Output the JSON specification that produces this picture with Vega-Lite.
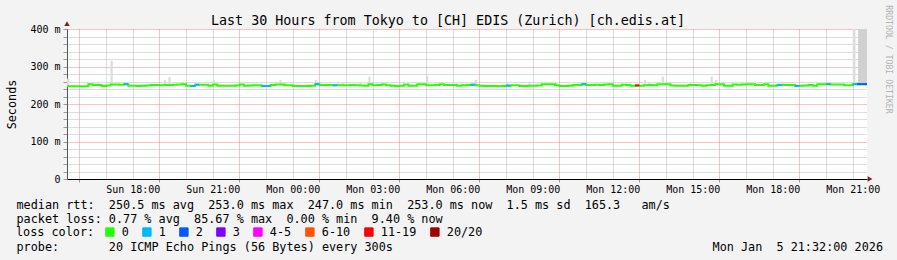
{
  "$schema": "https://vega.github.io/schema/vega-lite/v6.json",
  "width": 800,
  "height": 150,
  "autosize": {"type": "none"},
  "padding": {"left": 67, "top": 29, "right": 30, "bottom": 81},
  "background": "#f3f3f3",
  "config": {
    "view": {"stroke": null, "fill": "#ffffff"},
    "font": "DejaVu Sans Mono"
  },
  "title": {
    "text": "Last 30 Hours from Tokyo to [CH] EDIS (Zurich) [ch.edis.at]",
    "font": "DejaVu Sans Mono",
    "fontSize": 13.35,
    "fontWeight": "normal",
    "color": "#000000",
    "anchor": "middle",
    "frame": "group",
    "dx": -19,
    "baseline": "alphabetic",
    "offset": -34
  },
  "datasets": {
    "med": [
      {"t":"2026-01-04T15:32Z","m":247.5},{"t":"2026-01-04T15:40Z","m":247.5},{"t":"2026-01-04T15:50Z","m":247.5},
      {"t":"2026-01-04T16:00Z","m":247.5},{"t":"2026-01-04T16:10Z","m":247.5},{"t":"2026-01-04T16:20Z","m":252.5},
      {"t":"2026-01-04T16:30Z","m":250.5},{"t":"2026-01-04T16:40Z","m":251},{"t":"2026-01-04T16:50Z","m":248},
      {"t":"2026-01-04T17:00Z","m":249.5},{"t":"2026-01-04T17:10Z","m":252},{"t":"2026-01-04T17:20Z","m":252},
      {"t":"2026-01-04T17:30Z","m":251.5},{"t":"2026-01-04T17:40Z","m":253},{"t":"2026-01-04T17:50Z","m":249},
      {"t":"2026-01-04T18:00Z","m":249},{"t":"2026-01-04T18:10Z","m":248},{"t":"2026-01-04T18:20Z","m":249},
      {"t":"2026-01-04T18:30Z","m":249.5},{"t":"2026-01-04T18:40Z","m":251},{"t":"2026-01-04T18:50Z","m":251},
      {"t":"2026-01-04T19:00Z","m":250},{"t":"2026-01-04T19:10Z","m":250.5},{"t":"2026-01-04T19:20Z","m":251},
      {"t":"2026-01-04T19:30Z","m":251.5},{"t":"2026-01-04T19:40Z","m":252},{"t":"2026-01-04T19:50Z","m":252.5},
      {"t":"2026-01-04T20:00Z","m":249},{"t":"2026-01-04T20:10Z","m":248},{"t":"2026-01-04T20:20Z","m":251.5},
      {"t":"2026-01-04T20:30Z","m":251.5},{"t":"2026-01-04T20:40Z","m":251.5},{"t":"2026-01-04T20:50Z","m":249},
      {"t":"2026-01-04T21:00Z","m":252},{"t":"2026-01-04T21:10Z","m":249},{"t":"2026-01-04T21:20Z","m":248.5},
      {"t":"2026-01-04T21:30Z","m":248.5},{"t":"2026-01-04T21:40Z","m":248.5},{"t":"2026-01-04T21:50Z","m":249.5},
      {"t":"2026-01-04T22:00Z","m":252},{"t":"2026-01-04T22:10Z","m":249},{"t":"2026-01-04T22:20Z","m":249.5},
      {"t":"2026-01-04T22:30Z","m":250},{"t":"2026-01-04T22:40Z","m":250},{"t":"2026-01-04T22:50Z","m":248},
      {"t":"2026-01-04T23:00Z","m":248},{"t":"2026-01-04T23:10Z","m":251},{"t":"2026-01-04T23:20Z","m":252},
      {"t":"2026-01-04T23:30Z","m":252},{"t":"2026-01-04T23:40Z","m":250},{"t":"2026-01-04T23:50Z","m":250},
      {"t":"2026-01-05T00:00Z","m":248},{"t":"2026-01-05T00:10Z","m":248},{"t":"2026-01-05T00:20Z","m":248},
      {"t":"2026-01-05T00:30Z","m":248},{"t":"2026-01-05T00:40Z","m":248.5},{"t":"2026-01-05T00:50Z","m":253},
      {"t":"2026-01-05T01:00Z","m":251},{"t":"2026-01-05T01:10Z","m":251},{"t":"2026-01-05T01:20Z","m":250.5},
      {"t":"2026-01-05T01:30Z","m":250},{"t":"2026-01-05T01:40Z","m":250},{"t":"2026-01-05T01:50Z","m":250},
      {"t":"2026-01-05T02:00Z","m":250},{"t":"2026-01-05T02:10Z","m":250.5},{"t":"2026-01-05T02:20Z","m":250},
      {"t":"2026-01-05T02:30Z","m":249.5},{"t":"2026-01-05T02:40Z","m":249},{"t":"2026-01-05T02:50Z","m":253},
      {"t":"2026-01-05T03:00Z","m":250},{"t":"2026-01-05T03:10Z","m":250.5},{"t":"2026-01-05T03:20Z","m":252},
      {"t":"2026-01-05T03:30Z","m":250},{"t":"2026-01-05T03:40Z","m":249},{"t":"2026-01-05T03:50Z","m":248},
      {"t":"2026-01-05T04:00Z","m":248.5},{"t":"2026-01-05T04:10Z","m":252},{"t":"2026-01-05T04:20Z","m":249},
      {"t":"2026-01-05T04:30Z","m":249},{"t":"2026-01-05T04:40Z","m":253},{"t":"2026-01-05T04:50Z","m":252.5},
      {"t":"2026-01-05T05:00Z","m":250},{"t":"2026-01-05T05:10Z","m":250},{"t":"2026-01-05T05:20Z","m":251},
      {"t":"2026-01-05T05:30Z","m":253},{"t":"2026-01-05T05:40Z","m":251},{"t":"2026-01-05T05:50Z","m":251},
      {"t":"2026-01-05T06:00Z","m":251},{"t":"2026-01-05T06:10Z","m":249},{"t":"2026-01-05T06:20Z","m":250},
      {"t":"2026-01-05T06:30Z","m":251},{"t":"2026-01-05T06:40Z","m":251.5},{"t":"2026-01-05T06:50Z","m":250},
      {"t":"2026-01-05T07:00Z","m":249},{"t":"2026-01-05T07:10Z","m":248},{"t":"2026-01-05T07:20Z","m":248},
      {"t":"2026-01-05T07:30Z","m":248},{"t":"2026-01-05T07:40Z","m":247.5},{"t":"2026-01-05T07:50Z","m":248},
      {"t":"2026-01-05T08:00Z","m":249},{"t":"2026-01-05T08:10Z","m":250},{"t":"2026-01-05T08:20Z","m":250},
      {"t":"2026-01-05T08:30Z","m":248},{"t":"2026-01-05T08:40Z","m":248},{"t":"2026-01-05T08:50Z","m":248.5},
      {"t":"2026-01-05T09:00Z","m":249},{"t":"2026-01-05T09:10Z","m":249.5},{"t":"2026-01-05T09:20Z","m":253},
      {"t":"2026-01-05T09:30Z","m":253},{"t":"2026-01-05T09:40Z","m":252.5},{"t":"2026-01-05T09:50Z","m":250},
      {"t":"2026-01-05T10:00Z","m":248},{"t":"2026-01-05T10:10Z","m":248},{"t":"2026-01-05T10:20Z","m":249},
      {"t":"2026-01-05T10:30Z","m":251},{"t":"2026-01-05T10:40Z","m":251},{"t":"2026-01-05T10:50Z","m":253},
      {"t":"2026-01-05T11:00Z","m":251},{"t":"2026-01-05T11:10Z","m":251},{"t":"2026-01-05T11:20Z","m":251.5},
      {"t":"2026-01-05T11:30Z","m":251},{"t":"2026-01-05T11:40Z","m":252},{"t":"2026-01-05T11:50Z","m":252.5},
      {"t":"2026-01-05T12:00Z","m":249},{"t":"2026-01-05T12:10Z","m":249},{"t":"2026-01-05T12:20Z","m":251.5},
      {"t":"2026-01-05T12:30Z","m":251},{"t":"2026-01-05T12:40Z","m":249},{"t":"2026-01-05T12:50Z","m":249.5},
      {"t":"2026-01-05T13:00Z","m":249},{"t":"2026-01-05T13:10Z","m":250},{"t":"2026-01-05T13:20Z","m":251},
      {"t":"2026-01-05T13:30Z","m":250},{"t":"2026-01-05T13:40Z","m":252.5},{"t":"2026-01-05T13:50Z","m":253},
      {"t":"2026-01-05T14:00Z","m":253},{"t":"2026-01-05T14:10Z","m":249.5},{"t":"2026-01-05T14:20Z","m":249},
      {"t":"2026-01-05T14:30Z","m":248.5},{"t":"2026-01-05T14:40Z","m":248.5},{"t":"2026-01-05T14:50Z","m":250.5},
      {"t":"2026-01-05T15:00Z","m":251},{"t":"2026-01-05T15:10Z","m":250},{"t":"2026-01-05T15:20Z","m":248.5},
      {"t":"2026-01-05T15:30Z","m":250},{"t":"2026-01-05T15:40Z","m":251},{"t":"2026-01-05T15:50Z","m":252.5},
      {"t":"2026-01-05T16:00Z","m":253},{"t":"2026-01-05T16:10Z","m":249},{"t":"2026-01-05T16:20Z","m":249},
      {"t":"2026-01-05T16:30Z","m":252},{"t":"2026-01-05T16:40Z","m":251.5},{"t":"2026-01-05T16:50Z","m":252},
      {"t":"2026-01-05T17:00Z","m":252.5},{"t":"2026-01-05T17:10Z","m":253},{"t":"2026-01-05T17:20Z","m":251},
      {"t":"2026-01-05T17:30Z","m":251},{"t":"2026-01-05T17:40Z","m":253},{"t":"2026-01-05T17:50Z","m":249},
      {"t":"2026-01-05T18:00Z","m":249},{"t":"2026-01-05T18:10Z","m":251},{"t":"2026-01-05T18:20Z","m":251},
      {"t":"2026-01-05T18:30Z","m":251},{"t":"2026-01-05T18:40Z","m":251},{"t":"2026-01-05T18:50Z","m":248},
      {"t":"2026-01-05T19:00Z","m":249},{"t":"2026-01-05T19:10Z","m":249.5},{"t":"2026-01-05T19:20Z","m":251},
      {"t":"2026-01-05T19:30Z","m":249},{"t":"2026-01-05T19:40Z","m":253},{"t":"2026-01-05T19:50Z","m":253},
      {"t":"2026-01-05T20:00Z","m":253},{"t":"2026-01-05T20:10Z","m":252},{"t":"2026-01-05T20:20Z","m":252},
      {"t":"2026-01-05T20:30Z","m":252},{"t":"2026-01-05T20:40Z","m":250},{"t":"2026-01-05T20:50Z","m":250},
      {"t":"2026-01-05T21:00Z","m":253},{"t":"2026-01-05T21:10Z","m":253},{"t":"2026-01-05T21:20Z","m":253},
      {"t":"2026-01-05T21:32Z","m":253}
    ],
    "loss": [
      {"t":"2026-01-04T17:40Z","e":"2026-01-04T17:50Z","m":253,"l":"1"},
      {"t":"2026-01-04T20:10Z","e":"2026-01-04T20:20Z","m":248,"l":"1"},
      {"t":"2026-01-04T20:20Z","e":"2026-01-04T20:30Z","m":251.5,"l":"1"},
      {"t":"2026-01-04T22:50Z","e":"2026-01-04T23:00Z","m":248,"l":"1"},
      {"t":"2026-01-04T23:00Z","e":"2026-01-04T23:10Z","m":248,"l":"1"},
      {"t":"2026-01-05T00:50Z","e":"2026-01-05T01:00Z","m":253,"l":"1"},
      {"t":"2026-01-05T01:30Z","e":"2026-01-05T01:40Z","m":250,"l":"1"},
      {"t":"2026-01-05T06:40Z","e":"2026-01-05T06:50Z","m":251.5,"l":"1"},
      {"t":"2026-01-05T08:00Z","e":"2026-01-05T08:10Z","m":249,"l":"1"},
      {"t":"2026-01-05T10:50Z","e":"2026-01-05T11:00Z","m":253,"l":"1"},
      {"t":"2026-01-05T12:50Z","e":"2026-01-05T13:00Z","m":249.5,"l":"11-19"},
      {"t":"2026-01-05T18:10Z","e":"2026-01-05T18:20Z","m":251,"l":"1"},
      {"t":"2026-01-05T18:50Z","e":"2026-01-05T19:00Z","m":248,"l":"1"},
      {"t":"2026-01-05T20:00Z","e":"2026-01-05T20:10Z","m":253,"l":"1"},
      {"t":"2026-01-05T21:00Z","e":"2026-01-05T21:10Z","m":253,"l":"1"},
      {"t":"2026-01-05T21:10Z","e":"2026-01-05T21:20Z","m":253,"l":"2"},
      {"t":"2026-01-05T21:20Z","e":"2026-01-05T21:32Z","m":253,"l":"2"}
    ],
    "smoke": [
      {"t":"2026-01-04T15:32Z","e":"2026-01-04T15:37Z","m":247.5,"h":268,"d":"lo"},
      {"t":"2026-01-04T16:40Z","e":"2026-01-04T16:45Z","m":251,"h":259,"d":"lo"},
      {"t":"2026-01-04T17:10Z","e":"2026-01-04T17:15Z","m":252,"h":315,"d":"lo"},
      {"t":"2026-01-04T19:10Z","e":"2026-01-04T19:15Z","m":250.5,"h":264,"d":"lo"},
      {"t":"2026-01-04T19:20Z","e":"2026-01-04T19:25Z","m":251,"h":272,"d":"lo"},
      {"t":"2026-01-04T19:50Z","e":"2026-01-04T19:55Z","m":252.5,"h":259,"d":"lo"},
      {"t":"2026-01-04T21:00Z","e":"2026-01-04T21:05Z","m":252,"h":264,"d":"lo"},
      {"t":"2026-01-04T23:30Z","e":"2026-01-04T23:35Z","m":252,"h":264,"d":"lo"},
      {"t":"2026-01-04T23:40Z","e":"2026-01-04T23:45Z","m":250,"h":259,"d":"lo"},
      {"t":"2026-01-05T00:50Z","e":"2026-01-05T00:55Z","m":253,"h":264,"d":"lo"},
      {"t":"2026-01-05T01:40Z","e":"2026-01-05T01:45Z","m":250,"h":259,"d":"lo"},
      {"t":"2026-01-05T01:50Z","e":"2026-01-05T01:55Z","m":250,"h":259,"d":"lo"},
      {"t":"2026-01-05T02:30Z","e":"2026-01-05T02:35Z","m":249.5,"h":259,"d":"lo"},
      {"t":"2026-01-05T02:50Z","e":"2026-01-05T02:55Z","m":253,"h":273,"d":"lo"},
      {"t":"2026-01-05T03:20Z","e":"2026-01-05T03:25Z","m":252,"h":259,"d":"lo"},
      {"t":"2026-01-05T05:00Z","e":"2026-01-05T05:05Z","m":250,"h":275,"d":"lo"},
      {"t":"2026-01-05T06:50Z","e":"2026-01-05T06:55Z","m":250,"h":264,"d":"lo"},
      {"t":"2026-01-05T08:00Z","e":"2026-01-05T08:05Z","m":249,"h":259,"d":"lo"},
      {"t":"2026-01-05T08:50Z","e":"2026-01-05T08:55Z","m":248.5,"h":259,"d":"lo"},
      {"t":"2026-01-05T09:50Z","e":"2026-01-05T09:55Z","m":250,"h":259,"d":"lo"},
      {"t":"2026-01-05T13:10Z","e":"2026-01-05T13:15Z","m":250,"h":264,"d":"lo"},
      {"t":"2026-01-05T13:20Z","e":"2026-01-05T13:25Z","m":251,"h":259,"d":"lo"},
      {"t":"2026-01-05T13:50Z","e":"2026-01-05T13:55Z","m":253,"h":273,"d":"lo"},
      {"t":"2026-01-05T15:40Z","e":"2026-01-05T15:45Z","m":251,"h":273,"d":"lo"},
      {"t":"2026-01-05T15:50Z","e":"2026-01-05T15:55Z","m":252.5,"h":264,"d":"lo"},
      {"t":"2026-01-05T16:50Z","e":"2026-01-05T16:55Z","m":252,"h":259,"d":"lo"},
      {"t":"2026-01-05T18:20Z","e":"2026-01-05T18:25Z","m":251,"h":259,"d":"lo"},
      {"t":"2026-01-05T21:00Z","e":"2026-01-05T21:06Z","m":253,"h":400,"d":"lo"},
      {"t":"2026-01-05T21:12Z","e":"2026-01-05T21:32Z","m":253,"h":400,"d":"hi"}
    ],
    "arrows": [
      {"t":"2026-01-04T15:32Z","m":414.5,"a":"up"},
      {"t":"2026-01-05T21:38:45Z","m":0,"a":"right"}
    ]
  },
  "encoding": {
    "x": {
      "field": "t",
      "type": "temporal",
      "scale": {"type": "utc", "domain": [1767540720000, 1767648720000]},
      "axis": {
        "values": [1767542400000,1767546000000,1767549600000,1767553200000,1767556800000,1767560400000,1767564000000,1767567600000,1767571200000,1767574800000,1767578400000,1767582000000,1767585600000,1767589200000,1767592800000,1767596400000,1767600000000,1767603600000,1767607200000,1767610800000,1767614400000,1767618000000,1767621600000,1767625200000,1767628800000,1767632400000,1767636000000,1767639600000,1767643200000,1767646800000],
        "format": "%a %H:%M",
        "labelExpr": "utchours(datum.value) % 3 == 0 ? datum.label : ''",
        "labelOverlap": false,
        "labelFlush": false,
        "labelFont": "DejaVu Sans Mono",
        "labelFontSize": 10,
        "labelColor": "#000000",
        "labelPadding": 2,
        "tickSize": 3,
        "tickColor": {"condition": {"test": "utchours(datum.value) % 3 == 1", "value": "#999999"}, "value": "transparent"},
        "gridColor": {"condition": {"test": "utchours(datum.value) % 3 == 1", "value": "#ee8888"}, "value": "#bbbbbb"},
        "gridDash": [1, 1],
        "gridWidth": 1,
        "domainColor": "#000000",
        "domainWidth": 1,
        "title": [
          "median rtt:\u00a0\u00a0250.5 ms avg\u00a0\u00a0253.0 ms max\u00a0\u00a0247.0 ms min\u00a0\u00a0253.0 ms now\u00a0\u00a01.5 ms sd\u00a0\u00a0165.3\u00a0\u00a0\u00a0am/s",
          "packet loss: 0.77 % avg\u00a0\u00a085.67 % max\u00a0\u00a00.00 % min\u00a0\u00a09.40 % now",
          "\u200b",
          "probe:\u00a0\u00a0\u00a0\u00a0\u00a0\u00a0\u00a020 ICMP Echo Pings (56 Bytes) every 300s\u00a0\u00a0\u00a0\u00a0\u00a0\u00a0\u00a0\u00a0\u00a0\u00a0\u00a0\u00a0\u00a0\u00a0\u00a0\u00a0\u00a0\u00a0\u00a0\u00a0\u00a0\u00a0\u00a0\u00a0\u00a0\u00a0\u00a0\u00a0\u00a0\u00a0\u00a0\u00a0\u00a0\u00a0\u00a0\u00a0\u00a0\u00a0\u00a0\u00a0\u00a0\u00a0\u00a0\u00a0\u00a0Mon Jan\u00a0\u00a05 21:32:00 2026"
        ],
        "titleFont": "DejaVu Sans Mono",
        "titleFontSize": 11.8,
        "titleFontWeight": "normal",
        "titleColor": "#000000",
        "titleAnchor": "start",
        "titleAlign": "left",
        "titleBaseline": "alphabetic",
        "titleLineHeight": 14,
        "titleX": -51,
        "titleY": 29
      }
    },
    "y": {
      "field": "m",
      "type": "quantitative",
      "scale": {"domain": [0, 400], "nice": false},
      "axis": {
        "values": [0,20,40,60,80,100,120,140,160,180,200,220,240,260,280,300,320,340,360,380,400],
        "labelExpr": "datum.value == 0 ? '0' : (datum.value % 100 == 0 ? datum.value + ' m' : '')",
        "labelOverlap": false,
        "labelFont": "DejaVu Sans Mono",
        "labelFontSize": 10,
        "labelColor": "#000000",
        "labelPadding": 3,
        "tickSize": 4,
        "tickColor": "#999999",
        "gridColor": {"condition": {"test": "datum.value % 100 == 0", "value": "#ee8888"}, "value": "#bbbbbb"},
        "gridDash": [1, 1],
        "gridWidth": 1,
        "domainColor": "#555555",
        "title": "Seconds",
        "titleFont": "DejaVu Sans Mono",
        "titleFontSize": 11.8,
        "titleFontWeight": "normal",
        "titleColor": "#000000",
        "titleAngle": -90,
        "titleAlign": "center",
        "titleBaseline": "middle",
        "titleX": -56,
        "titleY": 75
      }
    }
  },
  "layer": [
    {
      "data": {"name": "smoke"},
      "mark": {"type": "rect", "clip": true},
      "encoding": {
        "x2": {"field": "e"},
        "y2": {"field": "h"},
        "fill": {"field": "d", "type": "nominal", "scale": {"domain": ["lo", "hi"], "range": ["#dcdcdc", "#d0d0d0"]}, "legend": null}
      }
    },
    {
      "data": {"name": "med"},
      "mark": {"type": "line", "interpolate": "step-after", "color": "#26ff00", "strokeWidth": 2, "clip": true},
      "encoding": {
        "y": {"field": "m", "type": "quantitative", "scale": {"domain": [0, 400], "nice": false}, "axis": null}
      }
    },
    {
      "data": {"name": "loss"},
      "mark": {"type": "rule", "strokeWidth": 2, "clip": true},
      "encoding": {
        "x2": {"field": "e"},
        "y": {"field": "m", "type": "quantitative", "scale": {"domain": [0, 400], "nice": false}, "axis": null},
        "color": {
          "field": "l",
          "type": "nominal",
          "scale": {
            "domain": ["0", "1", "2", "3", "4-5", "6-10", "11-19", "20/20"],
            "range": ["#26ff00", "#00b8ff", "#0059ff", "#7e00ff", "#ff00ff", "#ff5500", "#ff0000", "#a10000"]
          },
          "legend": {
            "title": "loss color:",
            "orient": "none",
            "legendX": -51,
            "legendY": 197,
            "direction": "horizontal",
            "columns": 8,
            "padding": 0,
            "symbolType": "square",
            "symbolSize": 70,
            "symbolStrokeWidth": 1,
            "labelFont": "DejaVu Sans Mono",
            "labelFontSize": 11.8,
            "labelColor": "#000000",
            "labelOffset": 6,
            "columnPadding": 11,
            "titleFont": "DejaVu Sans Mono",
            "titleFontSize": 11.8,
            "titleFontWeight": "normal",
            "titleColor": "#000000",
            "titleOrient": "left",
            "titlePadding": 9,
            "encode": {
              "symbols": {
                "update": {
                  "fill": {"scale": "color", "field": "value"},
                  "stroke": {"value": "#000000"},
                  "strokeWidth": {"value": 1},
                  "opacity": {"value": 1}
                },
                "fill": {"scale": "color", "field": "value"},
                "stroke": {"value": "#000000"},
                "strokeWidth": {"value": 1},
                "opacity": {"value": 1}
              }
            }
          }
        }
      }
    },
    {
      "data": {"name": "arrows"},
      "mark": {"type": "point", "filled": true, "size": 30, "opacity": 1, "color": "#7f1f1f"},
      "encoding": {
        "y": {
          "field": "m",
          "type": "quantitative",
          "scale": {"domain": [0, 400], "nice": false},
          "axis": {
            "orient": "right",
            "title": "RRDTOOL / TOBI OETIKER",
            "labels": false,
            "ticks": false,
            "domain": false,
            "grid": false,
            "titleFont": "DejaVu Sans Mono",
            "titleFontSize": 8.2,
            "titleFontWeight": "normal",
            "titleColor": "#b4b4b4",
            "titleAngle": 90,
            "titleAlign": "center",
            "titleBaseline": "middle",
            "titleX": 20,
            "titleY": 30
          }
        },
        "shape": {"field": "a", "type": "nominal", "scale": {"domain": ["up", "right"], "range": ["triangle-up", "triangle-right"]}, "legend": null}
      }
    }
  ],
  "resolve": {"axis": {"y": "independent"}}
}
